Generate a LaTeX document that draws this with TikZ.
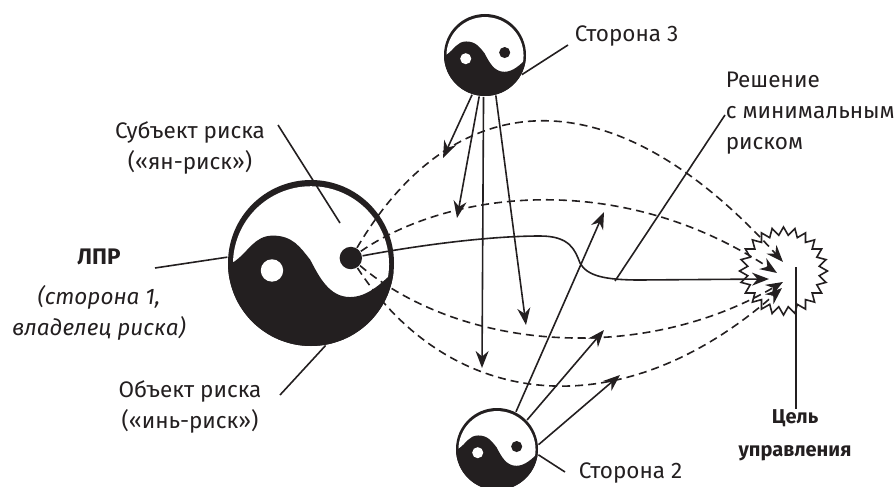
\documentclass[tikz,border=0pt]{standalone}
\usepackage{fontspec}
\usepackage{xcolor}
\usepackage{tikz}
\usetikzlibrary{arrows.meta,shapes.geometric}
\setmainfont{Fira Sans}
\definecolor{ink}{HTML}{231F20}
\tikzset{
    yinyang/.pic={
        \fill[ink] (0,0) circle (1);
        \fill[white] (0,.015) circle (.94);
        \begin{scope}
            \clip (0,0) circle (1);
            \fill[ink] (-1.05,.05) -- (-.92,-.02) .. controls (-.75,-.14) and (-.68,-.33) .. (-.46,-.33)
                .. controls (-.22,-.33) and (-.13,-.19) .. (-.01,-.04)
                .. controls (.1,.17) and (.22,.41) .. (.47,.41)
                .. controls (.68,.41) and (.85,.25) .. (1.05,.05)
                -- (1.05,1.05) -- (-1.05,1.05) -- cycle;
        \end{scope}
        \fill[white] (-.47,.09) circle (.135);
        \fill[ink] (.48,-.06) circle (.135);
    }
}
\begin{document}
\begin{tikzpicture}[x=1pt, y=-1pt, line width=1.6pt, draw=ink, text=ink,
    disc/.style={circle, inner sep=0pt, minimum size=#1},
    lbl/.style={font=\fontsize{22.5}{31}\selectfont, align=center, inner sep=0pt},
    route/.style={-{Stealth[length=17pt, width=13pt]}},
    dashroute/.style={route, dash pattern=on 8pt off 5pt}]
    \useasboundingbox (0,0) rectangle (895,487);
    \clip (0,0) rectangle (895,487);

    \node[disc=166pt] (owner) at (311,263) {};
    \node[disc=82pt] (side3) at (485,55) {};
    \node[disc=82pt] (side2) at (497,449) {};
    \pic[scale=83] at (owner) {yinyang};
    \pic[scale=41] at (side3) {yinyang};
    \pic[scale=41] at (side2) {yinyang};
    \node[disc=22pt] (eye) at (351,258) {};

    \node[star, star points=24, star point ratio=1.22, draw, fill=white, inner sep=0pt, minimum size=88pt] (goal) at (783.5,271) {};

    \coordinate (tip1) at (783,262);
    \coordinate (tip2) at (777,273);
    \coordinate (tip3) at (769,279);
    \coordinate (tip4) at (783,282);
    \coordinate (tip5) at (782,288);

    \draw[dashroute] (eye) .. controls (450,90) and (605,65) .. (tip1);
    \draw[dashroute] (eye) .. controls (450,190) and (620,170) .. (tip2);
    \draw[route] (eye) .. controls (420,245) and (490,236) .. (540,236)
        .. controls (570,236) and (575,250) .. (580,263)
        .. controls (587,276) and (605,280) .. (640,280) -- (tip3);
    \draw[dashroute] (eye) .. controls (460,350) and (640,365) .. (tip4);
    \draw[dashroute] (eye) .. controls (450,410) and (620,430) .. (tip5);

    \coordinate (a1) at (443,158);
    \coordinate (a2) at (457,218);
    \coordinate (a3) at (482,368);
    \coordinate (a4) at (526,325);
    \coordinate (b1) at (604,212);
    \coordinate (b2) at (604,330);
    \coordinate (b3) at (620,375);
    \draw[route] (side3.-108) -- (a1);
    \draw[route] (side3.-98) -- (a2);
    \draw[route] (side3.-92) -- (a3);
    \draw[route] (side3.-75) -- (a4);
    \draw[route] (side2.63) -- (b1);
    \draw[route] (side2.44) -- (b2);
    \draw[route] (side2.6) -- (b3);

    \node[lbl, anchor=west] (lbl3) at (574,36) {Сторона 3};
    \node[lbl, anchor=west] (lbl2) at (578,473) {Сторона 2};
    \node[lbl] (subject) at (190,148) {Субъект риска\\(«ян-риск»)};
    \node[lbl] (object) at (190,407) {Объект риска\\(«инь-риск»)};
    \node[lbl] (dm) at (99,295) {\textbf{ЛПР}\\[9pt]\textit{(сторона 1,}\\\textit{владелец риска)}};
    \node[lbl, align=left, anchor=west] (decision) at (725,113) {Решение\\с минимальным\\риском};
    \node[lbl, font=\fontsize{20}{33}\selectfont\bfseries] (goaltext) at (795,435) {Цель\\управления};

    \coordinate (subjstart) at (278,125);
    \coordinate (subjend) at (340,223);
    \coordinate (dmstart) at (155,268);
    \coordinate (objstart) at (280,395);
    \coordinate (s3start) at (568,45);
    \coordinate (s2start) at (565,472);
    \coordinate (decstart) at (725,115);
    \coordinate (decend) at (615,281);
    \coordinate (goalin) at (796,267);

    \draw (subjstart) -- (subjend);
    \draw (dmstart) -- (owner.176);
    \draw (objstart) -- (owner.-80);
    \draw (s3start) -- (side3.-28);
    \draw (s2start) -- (side2.-8);
    \draw (decstart) -- (decend);
    \draw (goalin) -- (goaltext.north -| goalin);
\end{tikzpicture}
\end{document}
